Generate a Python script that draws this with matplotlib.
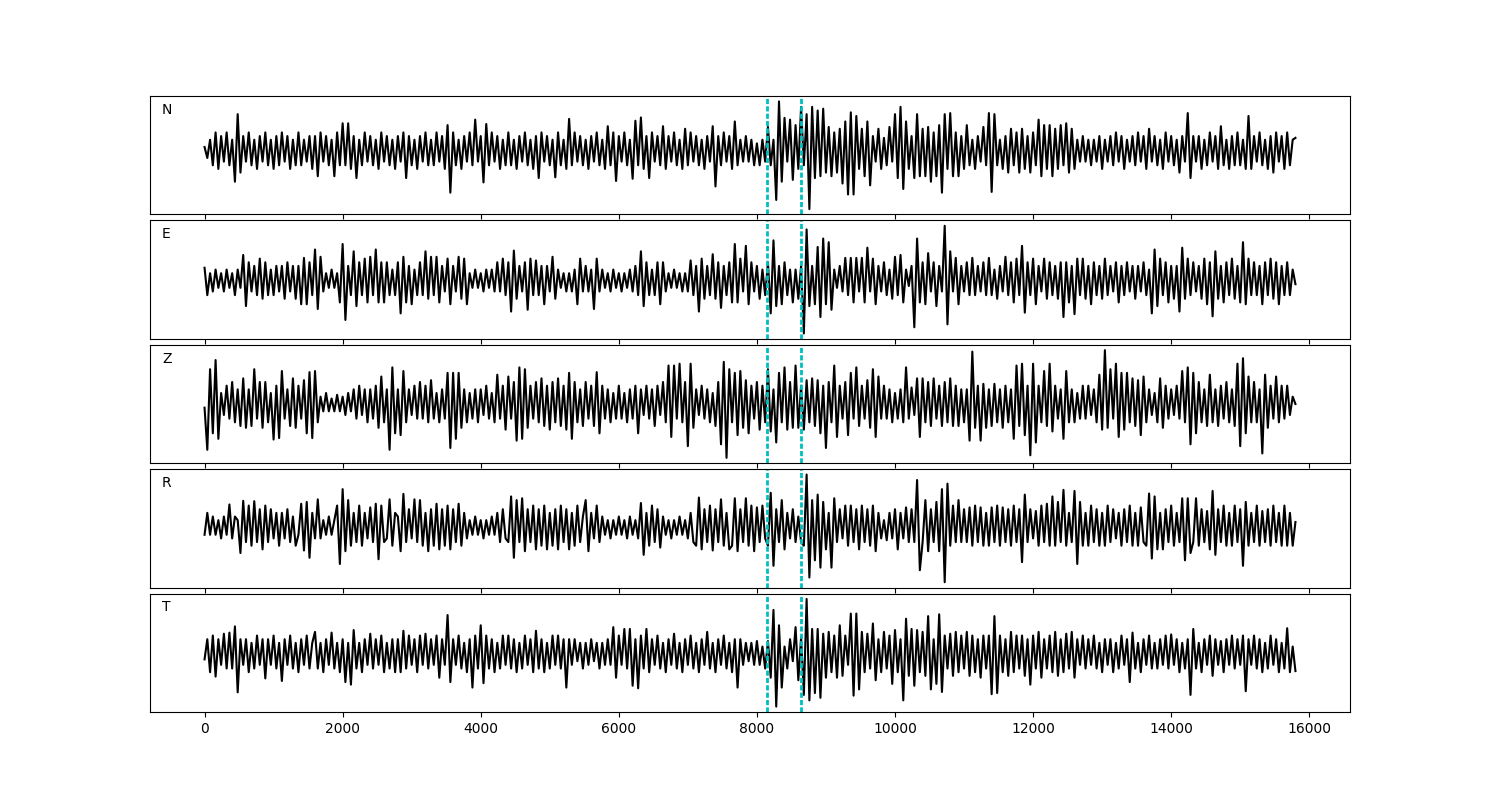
import numpy as np
import matplotlib.pyplot as plt

# %% Data: trace amplitudes (one value every ~40 samples)

n_trace = [
    1, -2, 3, -4, 5, -5, 4, -3, 5, -4, 3, -8.5, 10, -6, 4, -3, 5, -4, 3, -5,
    4, -3, 5, -4, 3, -5, 4, -4, 5, -3, 4, -5, 3, -4, 5, -4, 3, -3, 4, -5,
    4, -7, 5, -3, 4, -4, 3, -7, 5, -4, 7.5, -4, 7.5, -5, 4, -7.5, 3, -4, 5, -3,
    4, -4, 3, -5, 5, -3, 4, -4, 3, -5, 4, -3, 5, -7.5, 4, -4, 3, -5, 4, -3,
    5, -4, 3, -4, 5, -3, 4, -5, 7, -11.5, 5, -4, 3, -5, 4, -3, 5, -4, 8.5, -3,
    4, -8.7, 7.3, -4, 5, -3, 4, -5, 3, -4, 5, -4, 3, -5, 4, -3, 5, -4, 3, -5,
    4, -7.5, 5, -3, 4, -4, 3, -7.3, 5, -4, 3, -5, 8.7, -4, 5, -3, 4, -4, 3, -5,
    4, -3, 5, -4, 3, -5, 6.7, -4, 5, -8.3, 4, -3, 5, -4, 3, -7.7, 8.2, -4, 9.1, -5,
    4, -7.5, 5, -3, 4, -4, 6.7, -5, 4, -3, 5, -4, 3, -5, 6, -4, 5, -3, 4, -4,
    3, -5, 4, -3, 6.7, -9.8, 4, -4, 5, -3, 4, -5, 8, -4, 3, -3, 4, -3, 3, -4,
    2, -4, 3, -3, 6.5, -4, 3, -13.5, 13.5, -8.5, 9, -3, 8.5, -8, 7, -5, 12, -4, 10, -16,
    12, -7.5, 11, -7, 11.5, -6, 6.5, -7, 5, -6, 6, -9, 8, -12, 10.5, -12, 9.5, -5, 6, -7,
    8, -9.5, 4, -3, 6, -5, 3.5, -4, 6.5, -3, 10, -7.5, 12, -10.5, 8, -5, 4, -7.5, 10, -7,
    6, -7, 6.5, -8.5, 5, -7, 7, -11.5, 10, -5, 10.3, -7, 5, -7, 4, -5, 7, -4, 3, -5,
    4, -3, 6.5, -4, 10.3, -11.3, 10, -4, 3, -5, 4, -6, 6, -4, 5, -6, 6, -5, 4, -6,
    5, -4, 8.5, -7, 7, -5, 7, -7, 6, -5, 7, -4, 7.5, -6, 6, -5, 3, -3, 4, -3,
    3, -4, 3, -3, 4, -5, 3, -3, 4, -4, 5, -3, 4, -5, 3, -3, 4, -4, 5, -3,
    4, -5, 6, -3, 4, -4, 3, -5, 5, -3, 4, -4, 3, -6, 4, -3, 10.3, -7.5, 4, -3,
    4, -5, 3, -4, 5, -3, 4, -5, 6.7, -4, 3, -5, 4, -4, 5, -4, 3, -5, 9.5, -5,
    4, -3, 5, -4, 3, -5, 4, -6, 5, -3, 4, -5, 5, -4, 3, 3.5,
]

e_trace = [
    3.5, -4, 2, -3, 3, -2, 2, -3, 3, -2, 2, -4, 3, -2, 7, -7, 5, -3, 4, -4,
    6, -5, 5, -4, 3, -4, 4, -3, 4, -5, 5, -3, 4, -5, 4, -6.5, 6.2, -6.5, 5, -4,
    8.5, -7.8, 6.5, -3, 2, -2, 3, -2, 2, -6, 10, -10.8, 4, -4, 8, -7, 5, -4, 6, -6,
    6.5, -4, 8.5, -6, 5, -6, 5, -4, 3, -4, 5, -9, 6.5, -6, 4, -6.5, 3, -4, 5, -4,
    8, -5, 6.5, -4, 6.5, -6, 4, -3, 6, -6.5, 4, -3, 6.5, -5, 6, -6.5, 2, -2, 3, -2,
    2, -3, 3, -2, 3, -3, 5, -3, 6, -4, 5, -8.5, 8.2, -5, 4, -3, 5, -8, 6, -4,
    5.5, -4, 4, -6.5, 4, -3, 6.5, -5, 3, -2, 2, -3, 2, -3, 3, -6.5, 6, -3, 4, -3,
    3, -7.8, 6, -3, 3, -2, 2, -3, 3, -2, 2, -3, 2, -2, 3, -3, 4, -4, 8, -7,
    5, -4, 3, -4, 5, -6.5, 5, -3, 2, -2, 3, -2, 2, -3, 2, -3, 5.5, -4, 4, -8.5,
    6, -5, 4, -4, 7.2, -5, 5, -7.5, 4, -4, 5, -6, 10, -6, 6, -3, 9.5, -6.5, 5, -3,
    4, -5, 3, -4, 5, -9, 11, -7, 4, -6.5, 5, -4, 3, -6, 3, -5, 4, -14.5, 14, -7,
    4, -6.5, 9.2, -10, 11.5, -6.5, 10.5, -8, 3, -2, 4, -3, 6.2, -4, 6.2, -6, 6.2, -3, 6.2, -6,
    9, -3, 6, -6.5, 4, -3, 5, -4, 3, -5, 6.5, -4, 7, -6, 3, -1.5, 4, -12.8, 11.5, -6,
    5, -6.5, 7.5, -3, 5, -7, 4, -3, 15, -12, 8, -3, 6.2, -6.5, 4, -3, 5, -4, 6.2, -4,
    4, -3, 5, -4, 6.2, -4, 3, -5, 4, -3, 6.5, -4, 5, -6, 6, -4, 9.5, -8.8, 5, -4,
    6, -6.5, 4, -3, 6, -5, 5, -4, 4, -5, 5, -10, 5, -6, 4, -9.2, 6, -4, 6, -5,
    4, -6.5, 5, -4, 4, -5, 6, -4, 4, -3, 5, -6, 4, -4, 5, -3, 4, -5, 4, -3,
    5, -4, 3, -9, 8.5, -7, 6, -4, 5, -6, 4, -5, 4, -8.5, 9, -5, 6, -4, 5, -3,
    4, -5, 6, -6.5, 5, -9.8, 8, -5, 4, -6, 5, -4, 6, -5, 4, -6, 10.5, -6.5, 6, -4,
    5, -4, 4, -6.5, 5, -4, 6, -5, 5, -6.5, 4, -4, 5, -4, 3, -1,
]

z_trace = [
    -1, -12.5, 9.5, -8, 12, -9.5, 3, -3, 5, -4, 6, -5, 4, -6, 7, -6.5, 4, -6, 9.5, -4,
    6, -6.5, 6, -5, 3, -9.7, 5, -9.3, 9, -4, 4, -6, 7, -6.5, 5, -4, 6.5, -8, 8.7, -9.3,
    9, -5, 2, -2, 3, -2, 1.5, -2, 2.5, -2, 2, -3, 3, -2, 4, -4, 5, -3, 4, -5,
    4, -4, 5, -6.5, 7.5, -5, 4, -12.5, 10, -8, 4, -8.5, 9, -5, 4, -3, 5, -4, 6, -4,
    5, -5, 6.5, -4, 3, -5, 4, -4, 8.5, -12, 8.5, -9.5, 8.5, -6.5, 4, -5, 3, -4, 4, -5,
    4, -3, 5, -4, 3, -5, 8, -4, 5, -7, 7.5, -4, 6, -10, 10, -9.5, 9.5, -6.5, 5, -4,
    6, -5, 7, -6, 5, -7, 6, -5, 7, -6, 5, -7, 8.5, -9.5, 6, -5, 4, -6, 6, -4,
    5, -6, 8.7, -8, 5, -4, 4, -5, 3, -4, 5, -4, 3, -5, 4, -4, 5, -8, 4, -3,
    5, -4, 4, -6, 5, -3, 6, -5, 10.5, -9, 10.5, -4, 11, -5, 6, -11.5, 11, -6.5, 4, -3,
    5, -4, 4, -5, 3, -6, 6, -11, 11.5, -14.7, 9.5, -5, 8.5, -8.5, 9, -6.5, 6.5, -8, 5, -4,
    6, -7, 5, -5, 9.5, -7.5, 4, -10.5, 8.5, -5, 10, -7, 6, -6.5, 10.5, -6.5, 5, -7, 6.5, -5,
    7, -6, 6.5, -8, 5, -12, 6, -5, 10.5, -9, 5, -4, 6, -8.5, 8.5, -4, 10, -6, 5, -4,
    6.5, -6.5, 9.5, -9, 7.5, -4, 5, -4, 4, -5, 3, -4, 4, -5, 10, -4, 4.5, -3, 7, -9,
    7, -5, 6, -6, 7, -4, 5, -6, 6, -5, 7, -6, 5, -6, 4, -5, 4, -10, 14.3, -6.5,
    5, -10, 5.5, -6.5, 4, -6, 5.5, -5, 4, -6.5, 5, -5, 4, -9.5, 10.5, -6, 11, -8.5, 5, -14,
    11, -10.5, 5, -5, 9, -6, 11, -7.5, 5, -4, 4, -9.5, 9, -5, 4, -5, 3, -4, 5, -4,
    5, -3, 4, -5, 8, -7, 14.7, -6.5, 9.5, -4, 11, -9, 8.5, -7, 8.5, -5, 7, -6, 6.5, -8.5,
    7.5, -5, 4, -3, 3, -5, 7, -6.5, 5, -4, 4, -3, 5, -4, 9, -5, 10, -11, 8.5, -8,
    6, -5, 4, -6, 8, -5, 4, -6, 5, -4, 6, -5, 4, -6, 11, -11.5, 12.5, -8, 7.5, -5,
    6, -5, 4, -13.5, 8, -6.5, 5, -4, 7.5, -5, 5, -4, 5, -3, 2, 0,
]

r_trace = [
    -2, 4, -2, 3, -2, 2, -3, 3, -2, 6.3, -3, 3, 2, -7, 7.3, -4, 6, -5, 7.2, -4,
    5, -6, 6, -4, 5, -3, 4, -5, 4, -3, 5, -4, 3, -5, -2, 6.5, -6.3, 7, -8.3, 4,
    -3, 7.7, -3, 2, -2, 3, -2, 2, 6, -10, 10.5, -6.5, 7.5, -5, 4, -4, 6, -5, 4, -3,
    5.5, -4, 6.5, -8.7, 6, -4, -3, 7.7, -5, 4, 3, -6.5, 9.2, -4, 5, -3, 7.7, -4, 7.5, -5,
    4, -6.5, 5, -5, 6.5, -6, 5, -5, 6, -6, 5, -4, 6.5, -5, 4, -3, 2, -2, 3, -2,
    2, -3, 2, -2, 3, -2, 4, -4, 5, -3, -4, 8.5, -8.3, 7.5, -4, 8, -6.5, 5, -4, 6,
    -6, 5, -5, 6, -6, 4, -5, 5, -6, 6, -4, 5, -6, 4, -5, 6, -4, 3, 7.5, -6.5,
    4, -3, 6, -4, 3, -2, 2, -3, 2, -2, 3, -2, 2, -3, 3, -2, 2, -3, 6.7, -7.5,
    4, -5, 6, -4, 5, -5.5, 3, -2, 2, -3, 2, -2, 3, -2, 2, -3, 4, -4, -5, 8.2,
    -6, 5, -4, 6, -6.3, 5, -4, 7.7, -5, 4, -6, -5, 8, -6.5, 5, -4, 8, -5, 6, -6.5,
    5.5, -4, 6, -3, -5, 9.5, -10.5, 5, -4, 7.5, -6, 4, -3, 5, -4, 3, -4, -5, 14.5, -13.7,
    7.5, -9, 9, -11, 7, -6, 4, -11, 8, -4, 5, -3, 6, -5, 6, -4, 5, -6, 6, -4,
    5, -5, 6, -6.5, 4, -3, 2, -3.5, 4, -3, 5, -6, 4, -3, 5.5, -4, 5, -4, 13, -11.7,
    -4, 7.5, -6.5, 5, -4, 7, -6.5, 10.5, -15, 12, -5, 6, -4, 7.5, -4, 5, -4, 5.5, -5, 6,
    -4, 5.5, -5, 4, -5, 5.5, -4, 6, -5, 5.5, -4, 5, -5, 6, -4, 5, -9.5, 9, -4, 5,
    -3, 4.5, -5, 6, -4, 6.5, -5, 8.5, -5, 7, -4, 10.3, -5, 4, -4, 10, -10, 7, -5, 4,
    -5, 6, -4, 5, -5, 4, -5, 6, -4, 5, -3, 4, -5, 5, -4, 6, -5, 4, -5, 5.5,
    -4, -5, 9.3, -8.5, 8.5, -6, 4, -6, 5, -4, 6, -5, 4, -4, 8, -9, 8, -7, -4, 8,
    -5, 5, -4, 4.5, -6, 10, -7.5, 5, -4, 6, -5, 4, -5, 6, -4, 5, -10.5, 7, -5, 4,
    -4, 6, -5, 4.5, -4, 5, -5, 6, -4, 4, -5, 6, -5, 4, -5, 1.5,
]

t_trace = [
    -1.5, 4, -5, 5, -6.2, 4, -3, 5.5, -4, 5.8, -4, 7.5, -10.5, 4, -3, 4, -5, 3, -4, 5,
    -3, 4, -6.7, 4, -3, 5, -4, 3, -7.4, 4, -3, 5, -4, 3, -5, 4, -3, 5, -4, 3,
    6, -4, 3, -5, 4, -3, 5.8, -4, 3, -5, 4, -7.7, 3, -8.4, 6.5, -4, 3, -5, 4, -3,
    5.5, -4, 4, -3, 5, -5, 3, -4, 4, -5, 4, -5, 6.3, -4, 5, -3, 4, -5, 5, -3,
    5.5, -4, 4, -3, 5, -6.5, 4, -3, 10.6, -7.7, 4, -3, 5, -4, 3, -5, 4, -9.2, 5, -4,
    7.8, -8, 5, -4, 4, -5, 3, -4, 5, -3, 5, -4, 4, -5, 3, -4, 5, -3, 4, -5,
    6.3, -4, 4, -5, 3, -4, 5, -3, 5, -4, 4, -9.2, 4, -3, 4, -2, 3, -4, 3, -3,
    4, -2, 3, -4, 3, -3, 4, -3, 7.3, -6.5, 5, -3, 6.8, -4, 6.8, -8.7, 4, -9.4, 5, -4,
    6.8, -5, 4, -3, 5, -4, 3, -5, 4, -3, 5.5, -4, 3, -5, 4, -3, 5, -4, 3, -5,
    4, -3, 6, -4, 3, -5, 4, -3, 5, -4, 3, -5, 4, -9.2, 4, -3, 3, -2, 3, -3,
    3.5, -3, 2, -4, 3.5, -6.5, 12, -14.4, 7.8, -9.2, 2, -4, 4, -2, 7.3, -7.2, 4.5, -11.2, 15, -12.7,
    6.8, -10.7, 6.8, -12, 5.5, -6.5, 6, -5, 5, -6.5, 7.8, -6, 5, -3, 11, -11.4, 11, -9.7, 6, -5,
    5.5, -4, 8.3, -7.2, 4, -5, 6, -4, 5, -8.2, 6.5, -5, 4, -12.7, 9.6, -6, 6.8, -8.7, 6.5, -5,
    6, -6, 10.3, -9.7, 4, -8.2, 10.8, -10.4, 5, -4, 5.5, -6, 6, -5, 5, -4, 6, -6, 5, -5,
    4, -6.5, 5, -4, 5, -11, 10.3, -10.7, 5, -5, 4, -6, 6, -5, 5, -4, 5, -6, 4, -8.4,
    5, -4, 6, -6.5, 4, -4, 5, -5, 6, -6, 4, -5, 5.5, -4, 6, -6.5, 4, -3, 5, -4,
    4, -3, 5, -4, 3, -5, 4, -3, 4, -5, 3, -4, 5, -3, 4, -7.7, 5.8, -4, 3, -5,
    4, -3, 5, -4, 3, -4, 4, -3, 5, -4, 5.3, -3, 4, -5, 3, -4, 4, -11.2, 6.8, -4,
    3, -5, 4, -3, 5, -6, 4, -3, 3.5, -5, 4, -3, 5, -4, 4, -3, 5, -10.2, 4, -3,
    5, -4, 4, -5, 3, -4, 5, -3, 4, -5, 3, -4, 7, -5, 2, -4.7,
]

components = ["N", "E", "Z", "R", "T"]
traces = [n_trace, e_trace, z_trace, r_trace, t_trace]
t_end = 15800          # last sample
p_pick = 8145          # first dashed marker
s_pick = 8645          # second dashed marker

# %% Plot

fig, axes = plt.subplots(5, 1, sharex=True, figsize=(15, 8))
fig.subplots_adjust(left=0.1, right=0.9, hspace=0.05)

for ax, name, tr in zip(axes, components, traces):
    t = np.linspace(0, t_end, len(tr))
    ax.plot(t, tr, "k", lw=1.5)
    # short dashes, like unscaled '--'
    ax.axvline(p_pick, color="c", ls=(0, (1.85, 0.8)), lw=2)
    ax.axvline(s_pick, color="c", ls=(0, (1.85, 0.8)), lw=2)
    ax.set_yticks([])
    ax.text(0.01, 0.85, name, transform=ax.transAxes)

fig.savefig("out.png")
